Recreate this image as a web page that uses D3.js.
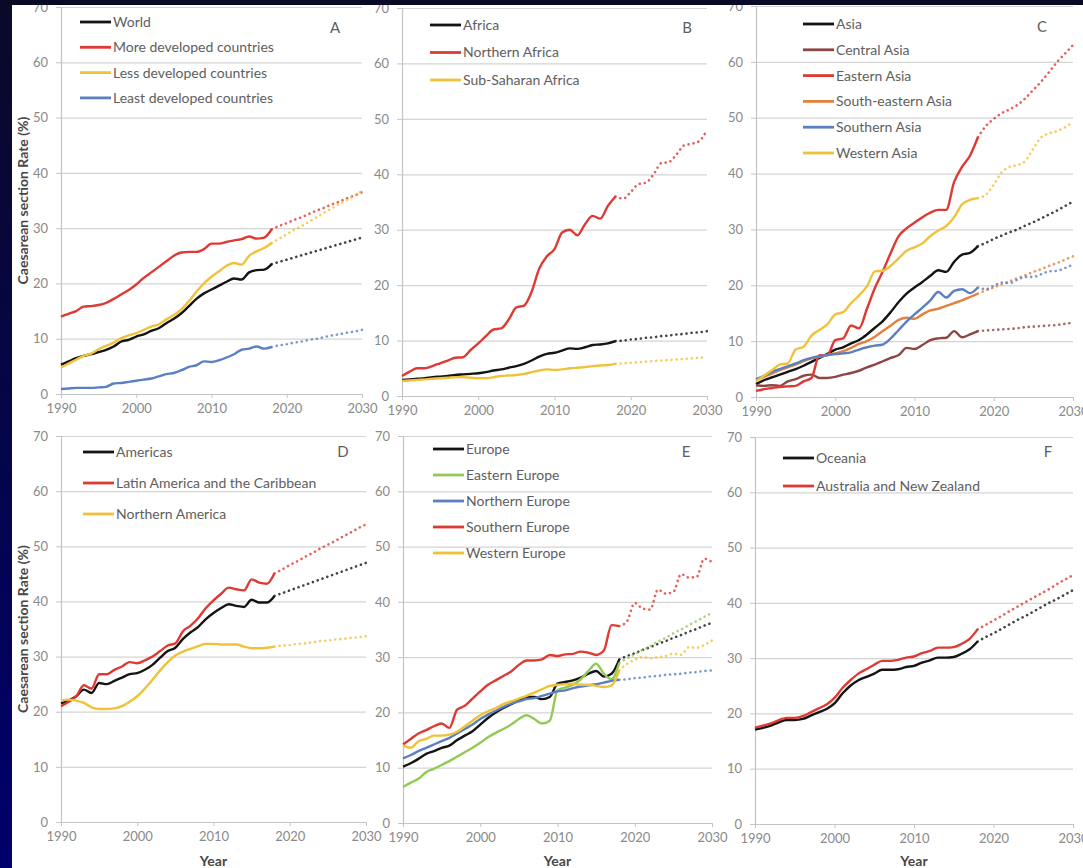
<!DOCTYPE html>
<html>
<head>
<meta charset="utf-8">
<script src="https://cdn.jsdelivr.net/npm/d3@7/dist/d3.min.js"></script>
<style>
  html, body { margin: 0; padding: 0; background: #000040; }
  svg { display: block; }
  text { font-family: Lato, "Open Sans", sans-serif; }
</style>
</head>
<body>
<svg id="chart" width="1083" height="868"></svg>
<script>
// ---- Axis ticks ----
const yTicks = [0, 10, 20, 30, 40, 50, 60, 70];
const xTicks = [1990, 2000, 2010, 2020, 2030];

// ---- Observed years and projection years ----
const years = [1990, 1991, 1992, 1993, 1994, 1995, 1996, 1997, 1998, 1999,
               2000, 2001, 2002, 2003, 2004, 2005, 2006, 2007, 2008, 2009,
               2010, 2011, 2012, 2013, 2014, 2015, 2016, 2017, 2018];
const projYears = [2018, 2019, 2020, 2021, 2022, 2023, 2024, 2025, 2026, 2027, 2028, 2029, 2030];

// ---- A: development groups ----
const worldRate = [5.3, 5.9, 6.5, 6.9, 7.2, 7.6, 8.0, 8.6, 9.5, 9.8, 10.4, 10.8, 11.4, 11.9, 12.8, 13.6, 14.6, 15.9, 17.2, 18.2, 18.9, 19.6, 20.3, 20.9, 20.7, 22.0, 22.4, 22.5, 23.5];
const worldProj = [23.5, 23.9, 24.3, 24.7, 25.1, 25.5, 25.9, 26.3, 26.7, 27.1, 27.5, 27.9, 28.3];
const moreDevRate = [14.0, 14.5, 15.0, 15.8, 15.9, 16.1, 16.5, 17.2, 18.0, 18.8, 19.8, 21.0, 22.0, 23.0, 24.0, 25.0, 25.6, 25.7, 25.7, 26.2, 27.2, 27.2, 27.5, 27.8, 28.0, 28.5, 28.1, 28.3, 29.8];
const moreDevProj = [29.8, 30.4, 30.9, 31.5, 32.0, 32.6, 33.2, 33.7, 34.3, 34.8, 35.4, 35.9, 36.5];
const lessDevRate = [4.8, 5.5, 6.2, 6.9, 7.3, 8.1, 8.7, 9.3, 10.1, 10.6, 11.0, 11.6, 12.2, 12.6, 13.5, 14.3, 15.3, 16.8, 18.5, 20.0, 21.2, 22.2, 23.2, 23.7, 23.4, 25.0, 25.8, 26.4, 27.3];
const lessDevProj = [27.3, 28.1, 28.9, 29.7, 30.4, 31.2, 32.0, 32.8, 33.6, 34.4, 35.1, 35.9, 36.7];
const leastDevRate = [0.9, 1.0, 1.1, 1.1, 1.1, 1.2, 1.3, 1.9, 2.0, 2.2, 2.4, 2.6, 2.8, 3.2, 3.6, 3.8, 4.3, 4.9, 5.2, 5.9, 5.8, 6.1, 6.6, 7.2, 8.0, 8.2, 8.6, 8.2, 8.5];
const leastDevProj = [8.5, 8.8, 9.0, 9.3, 9.5, 9.8, 10.0, 10.3, 10.6, 10.8, 11.1, 11.3, 11.6];

// ---- B: Africa ----
const africaRate = [2.9, 3.0, 3.1, 3.2, 3.4, 3.5, 3.6, 3.8, 3.9, 4.0, 4.1, 4.3, 4.6, 4.8, 5.1, 5.4, 5.8, 6.4, 7.1, 7.6, 7.8, 8.2, 8.6, 8.5, 8.8, 9.2, 9.3, 9.5, 9.9];
const africaProj = [9.9, 10.0, 10.2, 10.3, 10.5, 10.6, 10.8, 10.9, 11.1, 11.2, 11.4, 11.5, 11.7];
const northAfricaRate = [3.6, 4.4, 5.0, 5.0, 5.4, 5.9, 6.4, 6.9, 7.0, 8.3, 9.5, 10.8, 12.0, 12.2, 13.8, 16.0, 16.3, 18.8, 23.0, 25.2, 26.5, 29.5, 30.0, 29.0, 31.0, 32.5, 32.0, 34.3, 36.0];
const northAfricaProj = [36.0, 35.6, 36.8, 38.2, 38.5, 40.0, 42.0, 42.2, 43.6, 45.2, 45.5, 46.0, 48.0];
const subSaharaRate = [2.7, 2.8, 2.9, 3.0, 3.1, 3.2, 3.3, 3.4, 3.4, 3.3, 3.2, 3.2, 3.4, 3.6, 3.7, 3.8, 4.0, 4.3, 4.6, 4.8, 4.7, 4.8, 5.0, 5.1, 5.2, 5.4, 5.5, 5.6, 5.8];
const subSaharaProj = [5.8, 5.9, 6.0, 6.1, 6.2, 6.3, 6.4, 6.5, 6.6, 6.7, 6.8, 6.9, 7.0];

// ---- C: Asia ----
const asiaRate = [2.3, 3.0, 3.5, 4.0, 4.5, 5.0, 5.6, 6.3, 7.0, 7.7, 8.5, 8.9, 9.6, 10.2, 11.2, 12.4, 13.6, 15.2, 17.0, 18.5, 19.6, 20.6, 21.7, 22.7, 22.4, 24.2, 25.5, 25.8, 27.0];
const asiaProj = [27.0, 27.6, 28.3, 28.9, 29.5, 30.0, 30.7, 31.3, 32.0, 32.7, 33.4, 34.2, 35.0];
const centralAsiaRate = [2.1, 2.0, 2.1, 2.0, 2.8, 3.2, 3.8, 4.0, 3.4, 3.4, 3.6, 4.0, 4.3, 4.7, 5.3, 5.8, 6.4, 7.0, 7.5, 8.8, 8.6, 9.3, 10.2, 10.5, 10.6, 11.8, 10.7, 11.2, 11.8];
const centralAsiaProj = [11.8, 11.9, 12.0, 12.1, 12.2, 12.3, 12.5, 12.6, 12.7, 12.8, 12.9, 13.1, 13.3];
const eastAsiaRate = [1.1, 1.4, 1.6, 1.8, 1.9, 2.0, 2.8, 3.4, 7.5, 7.5, 10.2, 10.5, 12.8, 12.3, 15.8, 19.5, 22.5, 25.8, 28.8, 30.2, 31.2, 32.2, 33.0, 33.5, 33.5, 38.5, 41.2, 43.2, 46.5];
const eastAsiaProj = [46.5, 48.5, 49.8, 50.8, 51.5, 52.3, 53.5, 55.0, 56.5, 58.2, 60.0, 61.5, 63.0];
const seAsiaRate = [3.0, 3.6, 4.2, 4.8, 5.3, 5.8, 6.4, 6.9, 7.2, 7.5, 7.8, 8.2, 8.8, 9.5, 10.0, 10.8, 11.8, 12.8, 13.8, 14.2, 14.0, 14.8, 15.5, 15.8, 16.3, 16.8, 17.3, 17.9, 18.5];
const seAsiaProj = [18.5, 19.1, 19.6, 20.2, 20.7, 21.3, 21.8, 22.4, 22.9, 23.5, 24.0, 24.6, 25.2];
const southAsiaRate = [3.2, 3.8, 4.5, 5.0, 5.5, 6.0, 6.6, 7.0, 7.3, 7.5, 7.7, 7.8, 8.0, 8.5, 8.9, 9.2, 9.4, 10.5, 12.0, 13.5, 14.8, 16.0, 17.3, 18.8, 17.8, 19.0, 19.3, 18.6, 19.6];
const southAsiaProj = [19.6, 19.3, 19.9, 20.5, 20.4, 21.0, 21.5, 21.5, 22.0, 22.5, 22.6, 23.1, 23.7];
const westAsiaRate = [2.8, 3.8, 4.8, 5.8, 6.0, 8.5, 9.0, 11.0, 12.0, 13.0, 14.8, 15.2, 16.8, 18.2, 19.8, 22.5, 22.6, 23.5, 24.8, 26.2, 26.8, 27.5, 28.8, 29.8, 30.6, 32.2, 34.5, 35.3, 35.6];
const westAsiaProj = [35.6, 36.2, 38.0, 40.2, 41.2, 41.5, 42.3, 44.5, 46.5, 47.2, 47.6, 48.3, 49.3];

// ---- D: Americas ----
const americasRate = [21.5, 22.0, 22.8, 24.0, 23.4, 25.2, 25.0, 25.6, 26.2, 26.8, 27.0, 27.6, 28.5, 29.8, 31.0, 31.6, 33.2, 34.4, 35.4, 36.8, 37.9, 38.8, 39.5, 39.2, 39.0, 40.3, 39.8, 39.8, 41.0];
const americasProj = [41.0, 41.5, 42.0, 42.5, 43.0, 43.5, 44.0, 44.5, 45.0, 45.5, 46.0, 46.5, 47.0];
const latinRate = [21.0, 21.8, 22.8, 24.8, 24.2, 26.8, 26.8, 27.6, 28.2, 29.0, 28.8, 29.3, 30.0, 31.0, 32.0, 32.4, 34.6, 35.6, 37.0, 38.8, 40.2, 41.4, 42.5, 42.2, 42.0, 44.0, 43.4, 43.2, 45.1];
const latinProj = [45.1, 45.8, 46.6, 47.3, 48.1, 48.8, 49.6, 50.3, 51.0, 51.8, 52.5, 53.3, 54.0];
const northAmRate = [22.0, 22.2, 22.0, 21.6, 20.8, 20.5, 20.5, 20.6, 21.0, 21.8, 22.8, 24.2, 25.8, 27.5, 29.0, 30.2, 30.9, 31.4, 31.9, 32.3, 32.3, 32.2, 32.2, 32.2, 31.8, 31.5, 31.5, 31.6, 31.8];
const northAmProj = [31.8, 32.0, 32.1, 32.3, 32.4, 32.6, 32.8, 32.9, 33.1, 33.2, 33.4, 33.5, 33.7];

// ---- E: Europe ----
const europeRate = [10.2, 10.8, 11.6, 12.5, 13.0, 13.6, 14.0, 15.0, 15.8, 16.6, 17.8, 19.0, 20.0, 20.8, 21.5, 22.2, 22.8, 22.8, 22.4, 22.8, 25.2, 25.5, 25.8, 26.3, 27.0, 27.5, 26.5, 27.0, 29.6];
const europeProj = [29.6, 30.2, 30.7, 31.3, 31.8, 32.4, 32.9, 33.5, 34.0, 34.6, 35.1, 35.7, 36.2];
const eastEuRate = [6.5, 7.3, 8.0, 9.2, 9.8, 10.5, 11.2, 12.0, 12.8, 13.6, 14.5, 15.5, 16.3, 17.0, 17.8, 18.8, 19.5, 18.8, 18.0, 18.5, 24.0, 24.5, 25.0, 26.0, 27.5, 28.8, 27.0, 26.0, 29.0];
const eastEuProj = [29.0, 29.8, 30.5, 31.3, 32.0, 32.8, 33.5, 34.3, 35.0, 35.8, 36.5, 37.3, 38.0];
const northEuRate = [11.7, 12.3, 13.0, 13.6, 14.2, 14.8, 15.4, 16.2, 17.0, 17.8, 18.8, 19.6, 20.3, 21.0, 21.6, 22.0, 22.4, 22.6, 23.0, 23.4, 23.8, 24.0, 24.4, 24.7, 24.9, 25.1, 25.4, 25.7, 25.9];
const northEuProj = [25.9, 26.0, 26.2, 26.3, 26.5, 26.6, 26.8, 26.9, 27.0, 27.2, 27.3, 27.5, 27.6];
const southEuRate = [14.2, 15.2, 16.2, 16.8, 17.5, 18.0, 17.2, 20.5, 21.2, 22.5, 23.8, 25.0, 25.8, 26.6, 27.4, 28.6, 29.4, 29.4, 29.6, 30.4, 30.2, 30.5, 30.6, 31.0, 30.8, 30.4, 31.2, 35.8, 35.6];
const southEuProj = [35.6, 36.5, 39.8, 38.8, 38.6, 42.2, 41.5, 41.8, 45.0, 44.4, 44.5, 47.8, 47.2];
const westEuRate = [14.0, 13.6, 14.8, 15.2, 15.8, 15.8, 16.0, 16.5, 17.5, 18.5, 19.5, 20.2, 20.8, 21.5, 22.0, 22.5, 23.0, 23.6, 24.2, 24.8, 25.0, 25.1, 25.2, 25.0, 25.0, 24.8, 24.6, 24.9, 27.6];
const westEuProj = [27.6, 28.8, 29.5, 30.0, 29.8, 30.0, 30.2, 30.6, 30.4, 31.8, 31.7, 32.2, 33.0];

// ---- F: Oceania ----
const oceaniaRate = [17.1, 17.4, 17.8, 18.4, 18.8, 18.8, 19.0, 19.6, 20.2, 20.8, 21.8, 23.6, 25.0, 26.0, 26.6, 27.2, 27.9, 27.9, 28.0, 28.4, 28.6, 29.2, 29.6, 30.1, 30.1, 30.2, 30.8, 31.6, 33.0];
const oceaniaProj = [33.0, 33.8, 34.5, 35.3, 36.1, 36.9, 37.6, 38.4, 39.2, 40.0, 40.7, 41.5, 42.3];
const ausNzRate = [17.4, 17.8, 18.2, 18.8, 19.2, 19.2, 19.5, 20.2, 20.9, 21.6, 22.8, 24.6, 26.0, 27.2, 28.0, 28.8, 29.5, 29.5, 29.7, 30.1, 30.3, 30.9, 31.3, 31.9, 31.9, 32.0, 32.6, 33.5, 35.2];
const ausNzProj = [35.2, 36.0, 36.8, 37.6, 38.5, 39.3, 40.1, 40.9, 41.7, 42.5, 43.4, 44.2, 45.0];

// ---- Palette ----
const C = {
  black: "#141414", red: "#de3a33", yellow: "#f0c23a", blue: "#5b80c2",
  brown: "#8e4545", orange: "#e3813d", green: "#93c955"
};

// ---- Panels: data plus where each one sits ----
const panels = [
  { letter: "A", box: [61, 362, 7, 394], legend: [80, 22, 25.3], letterPos: [335, 28], yTitle: true, xTitle: false,
    series: [
      { name: "World", color: C.black, v: worldRate, p: worldProj },
      { name: "More developed countries", color: C.red, v: moreDevRate, p: moreDevProj },
      { name: "Less developed countries", color: C.yellow, v: lessDevRate, p: lessDevProj },
      { name: "Least developed countries", color: C.blue, v: leastDevRate, p: leastDevProj }
    ] },
  { letter: "B", box: [402, 707, 8, 396], legend: [430, 25, 27.5], letterPos: [687, 28], yTitle: false, xTitle: false,
    series: [
      { name: "Africa", color: C.black, v: africaRate, p: africaProj },
      { name: "Northern Africa", color: C.red, v: northAfricaRate, p: northAfricaProj },
      { name: "Sub-Saharan Africa", color: C.yellow, v: subSaharaRate, p: subSaharaProj }
    ] },
  { letter: "C", box: [756, 1073, 6, 397], legend: [803, 24, 25.8], letterPos: [1042, 27], yTitle: false, xTitle: false,
    series: [
      { name: "Asia", color: C.black, v: asiaRate, p: asiaProj },
      { name: "Central Asia", color: C.brown, v: centralAsiaRate, p: centralAsiaProj },
      { name: "Eastern Asia", color: C.red, v: eastAsiaRate, p: eastAsiaProj },
      { name: "South-eastern Asia", color: C.orange, v: seAsiaRate, p: seAsiaProj },
      { name: "Southern Asia", color: C.blue, v: southAsiaRate, p: southAsiaProj },
      { name: "Western Asia", color: C.yellow, v: westAsiaRate, p: westAsiaProj }
    ] },
  { letter: "D", box: [61, 366, 436, 822], legend: [83, 452, 31], letterPos: [343, 452], yTitle: true, xTitle: true,
    series: [
      { name: "Americas", color: C.black, v: americasRate, p: americasProj },
      { name: "Latin America and the Caribbean", color: C.red, v: latinRate, p: latinProj },
      { name: "Northern America", color: C.yellow, v: northAmRate, p: northAmProj }
    ] },
  { letter: "E", box: [403, 712, 436, 823], legend: [433, 449, 26], letterPos: [686, 452], yTitle: false, xTitle: true,
    series: [
      { name: "Europe", color: C.black, v: europeRate, p: europeProj },
      { name: "Eastern Europe", color: C.green, v: eastEuRate, p: eastEuProj },
      { name: "Northern Europe", color: C.blue, v: northEuRate, p: northEuProj },
      { name: "Southern Europe", color: C.red, v: southEuRate, p: southEuProj },
      { name: "Western Europe", color: C.yellow, v: westEuRate, p: westEuProj }
    ] },
  { letter: "F", box: [755, 1073, 437, 824], legend: [783, 458, 28], letterPos: [1048, 452], yTitle: false, xTitle: true,
    series: [
      { name: "Oceania", color: C.black, v: oceaniaRate, p: oceaniaProj },
      { name: "Australia and New Zealand", color: C.red, v: ausNzRate, p: ausNzProj }
    ] }
];

const svg = d3.select("#chart");

// white page on the navy slide
svg.append("rect").attr("x", 0).attr("y", 0).attr("width", 1083).attr("height", 868).attr("fill", "#ffffff");

panels.forEach(pn => {
  const [x0, x1, yTop, yBot] = pn.box;
  const x = d3.scaleLinear().domain([1990, 2030]).range([x0, x1]);
  const y = d3.scaleLinear().domain([0, 70]).range([yBot, yTop]);
  const g = svg.append("g");

  // horizontal gridlines
  g.append("g")
    .attr("transform", `translate(${x0},0)`)
    .call(d3.axisLeft(y).tickValues(yTicks).tickSize(-(x1 - x0)).tickFormat(""))
    .call(s => s.select(".domain").remove())
    .call(s => s.selectAll("line").attr("stroke", "#d4d4d4").attr("stroke-width", 1.2));

  // y axis
  g.append("g")
    .attr("transform", `translate(${x0},0)`)
    .call(d3.axisLeft(y).tickValues(yTicks).tickSize(5).tickSizeOuter(0).tickPadding(8))
    .call(s => s.select(".domain").attr("stroke", "#c4c4c4").attr("stroke-width", 1.2))
    .call(s => s.selectAll("line").attr("stroke", "#c4c4c4"))
    .call(s => s.selectAll("text").attr("fill", "#8a8a8a").style("font-size", "13px").style("font-family", "Lato, sans-serif"));

  // x axis
  g.append("g")
    .attr("transform", `translate(0,${yBot})`)
    .call(d3.axisBottom(x).tickValues(xTicks).tickFormat(d3.format("d")).tickSize(4).tickSizeOuter(0).tickPadding(6))
    .call(s => s.select(".domain").attr("stroke", "#c4c4c4").attr("stroke-width", 1.2))
    .call(s => s.selectAll("line").attr("stroke", "#c4c4c4"))
    .call(s => s.selectAll("text").attr("fill", "#8a8a8a").style("font-size", "13px").style("font-family", "Lato, sans-serif"));

  const line = d3.line().x(d => x(d[0])).y(d => y(d[1])).curve(d3.curveMonotoneX);

  pn.series.forEach(s => {
    // projection, dotted
    g.append("path")
      .datum(projYears.map((yr, i) => [yr, s.p[i]]))
      .attr("d", line)
      .attr("fill", "none")
      .attr("stroke", s.color)
      .attr("stroke-opacity", 0.8)
      .attr("stroke-width", 2.6)
      .attr("stroke-linecap", "round")
      .attr("stroke-dasharray", "0.1 5");
  });
  pn.series.forEach(s => {
    // observed, solid
    g.append("path")
      .datum(years.map((yr, i) => [yr, s.v[i]]))
      .attr("d", line)
      .attr("fill", "none")
      .attr("stroke", s.color)
      .attr("stroke-width", 2.4)
      .attr("stroke-linejoin", "round");
  });

  // legend
  const [lx, ly, ldy] = pn.legend;
  pn.series.forEach((s, i) => {
    const yy = ly + i * ldy;
    g.append("line").attr("x1", lx).attr("x2", lx + 31).attr("y1", yy).attr("y2", yy)
      .attr("stroke", s.color).attr("stroke-width", 2.8);
    g.append("text").attr("x", lx + 33).attr("y", yy).attr("dy", "0.35em")
      .attr("fill", "#5e5e5e").style("font-size", "14px").text(s.name);
  });

  // panel letter
  g.append("text").attr("x", pn.letterPos[0]).attr("y", pn.letterPos[1]).attr("dy", "0.35em")
    .attr("text-anchor", "middle").attr("fill", "#5e5e5e").style("font-size", "15px").text(pn.letter);

  if (pn.yTitle) {
    g.append("text")
      .attr("transform", `translate(${x0 - 38},${(yTop + yBot) / 2}) rotate(-90)`)
      .attr("text-anchor", "middle").attr("dy", "0.35em")
      .attr("fill", "#474747").style("font-size", "14px").style("font-weight", "bold")
      .text("Caesarean section Rate (%)");
  }
  if (pn.xTitle) {
    g.append("text")
      .attr("x", (x0 + x1) / 2).attr("y", 866)
      .attr("text-anchor", "middle")
      .attr("fill", "#474747").style("font-size", "14px").style("font-weight", "bold")
      .text("Year");
  }
});

// slide frame: dark band along the top and left edges
const frame = svg.append("defs").append("linearGradient")
  .attr("id", "slideNavy").attr("x1", 0).attr("y1", 0).attr("x2", 0).attr("y2", 1);
frame.append("stop").attr("offset", "0%").attr("stop-color", "#0a0a28");
frame.append("stop").attr("offset", "100%").attr("stop-color", "#00006c");
svg.append("rect").attr("x", 0).attr("y", 0).attr("width", 1083).attr("height", 5).attr("fill", "#0a0a26");
svg.append("rect").attr("x", 0).attr("y", 0).attr("width", 12).attr("height", 868).attr("fill", "url(#slideNavy)");
</script>
</body>
</html>
